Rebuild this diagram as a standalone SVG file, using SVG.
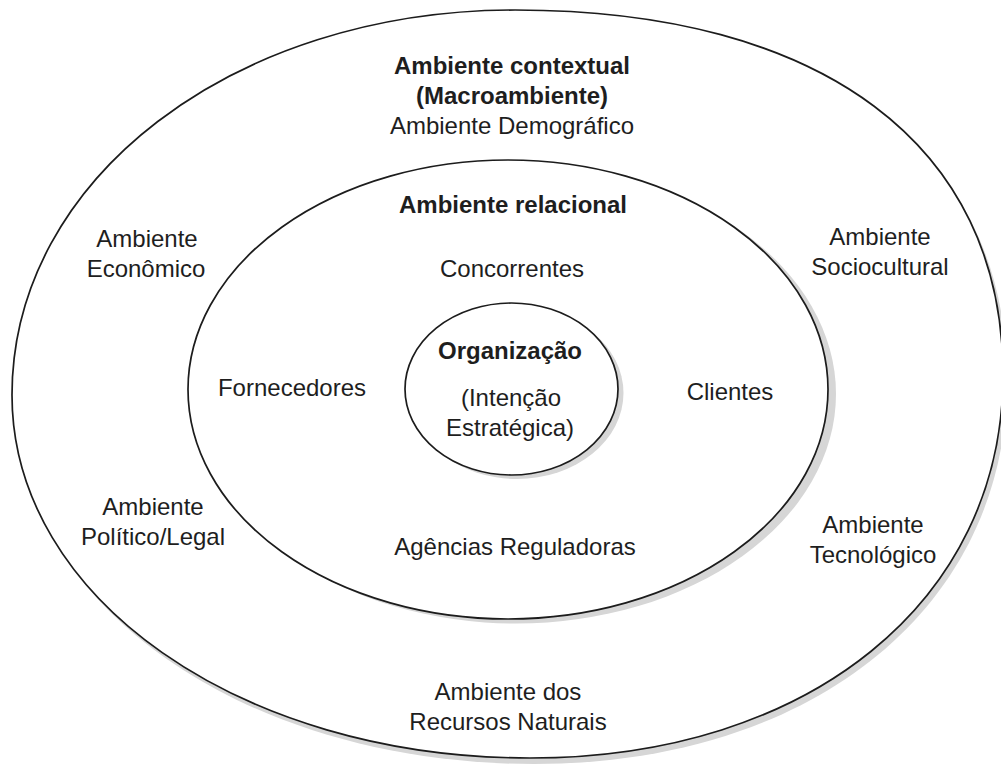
<svg xmlns="http://www.w3.org/2000/svg" width="1001" height="772" viewBox="0 0 1001 772">
<style>
.shadow{fill:#d6d6d6;stroke:none}
.ring{fill:#ffffff;stroke:#1c1c1c;stroke-width:1.7}
text{font-family:"Liberation Sans",Arial,Helvetica,sans-serif;fill:#1e1e1e;text-anchor:middle;font-size:24px}
.b{font-weight:bold}
</style>
<rect x="0" y="0" width="1001" height="772" fill="#ffffff"/>
<g id="outer">
<path class="shadow" transform="translate(4,6)" d="M515,10 C822,10 1003,145 1003,375 C1003,601 809,758 530,758 C240,758 12,598 12,395 C12,179 233,10 515,10 Z"/>
<path class="ring" d="M515,10 C822,10 1003,145 1003,375 C1003,601 809,758 530,758 C240,758 12,598 12,395 C12,179 233,10 515,10 Z"/>
</g>
<g id="middle">
<ellipse class="shadow" cx="516" cy="394" rx="320" ry="229.5"/>
<ellipse class="ring" cx="508" cy="389.5" rx="320" ry="229.5"/>
</g>
<g id="inner">
<ellipse class="shadow" cx="517" cy="393" rx="106.5" ry="86"/>
<ellipse class="ring" cx="511.5" cy="389" rx="106.5" ry="86"/>
</g>
<g id="connectors"></g>
<g id="label-contextual">
<text class="b" x="512" y="74" font-size="22">Ambiente contextual</text>
<text class="b" x="512" y="104">(Macroambiente)</text>
</g>
<g id="label-demografico"><text x="512" y="134" font-size="23.5">Ambiente Demográfico</text></g>
<g id="label-relacional"><text class="b" x="513" y="213">Ambiente relacional</text></g>
<g id="label-economico">
<text x="147" y="247">Ambiente</text>
<text x="146" y="277">Econômico</text>
</g>
<g id="label-sociocultural">
<text x="880" y="245">Ambiente</text>
<text x="880" y="275">Sociocultural</text>
</g>
<g id="label-concorrentes"><text x="512" y="277">Concorrentes</text></g>
<g id="label-organizacao">
<text class="b" x="510" y="359">Organização</text>
<text x="511" y="406" font-size="22.5">(Intenção</text>
<text x="510" y="436" font-size="22.5">Estratégica)</text>
</g>
<g id="label-fornecedores"><text x="292" y="396">Fornecedores</text></g>
<g id="label-clientes"><text x="730" y="400">Clientes</text></g>
<g id="label-politico">
<text x="153" y="515">Ambiente</text>
<text x="153" y="545">Político/Legal</text>
</g>
<g id="label-agencias"><text x="515" y="555">Agências Reguladoras</text></g>
<g id="label-tecnologico">
<text x="873" y="533">Ambiente</text>
<text x="873" y="563">Tecnológico</text>
</g>
<g id="label-recursos">
<text x="508" y="700">Ambiente dos</text>
<text x="508" y="730">Recursos Naturais</text>
</g>
</svg>
